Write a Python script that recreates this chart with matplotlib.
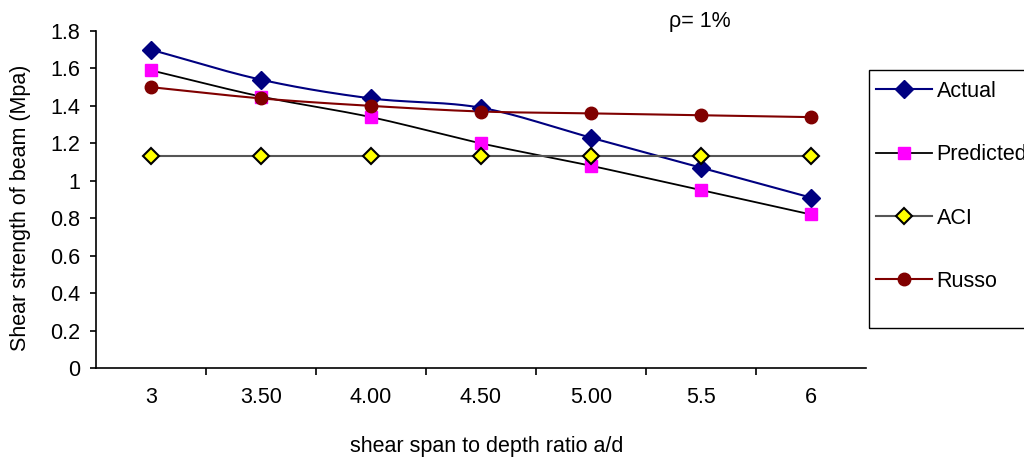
import numpy as np
import matplotlib.pyplot as plt
from matplotlib.patches import Rectangle

# shear strength (MPa) against a/d, rho = 1%
ratios = ['3', '3.50', '4.00', '4.50', '5.00', '5.5', '6']
actual = [1.70, 1.54, 1.44, 1.39, 1.23, 1.07, 0.91]
predicted = [1.59, 1.45, 1.34, 1.20, 1.08, 0.95, 0.82]
aci = [1.13, 1.13, 1.13, 1.13, 1.13, 1.13, 1.13]
russo = [1.50, 1.44, 1.40, 1.37, 1.36, 1.35, 1.34]

plt.rcParams['font.family'] = ['Liberation Sans', 'DejaVu Sans']
FS = 15.5


# Catmull-Rom curve through the points, like a smoothed line
def smooth(y, n=30):
    p = np.asarray(y, dtype=float)
    x = np.arange(len(p), dtype=float)
    px = np.concatenate([[2 * x[0] - x[1]], x, [2 * x[-1] - x[-2]]])
    py = np.concatenate([[2 * p[0] - p[1]], p, [2 * p[-1] - p[-2]]])
    t = np.linspace(0, 1, n)[:-1]
    xs, ys = [], []
    for i in range(1, len(px) - 2):
        for arr, out in ((px, xs), (py, ys)):
            p0, p1, p2, p3 = arr[i - 1], arr[i], arr[i + 1], arr[i + 2]
            out.extend(0.5 * (2 * p1 + (-p0 + p2) * t
                              + (2 * p0 - 5 * p1 + 4 * p2 - p3) * t ** 2
                              + (-p0 + 3 * p1 - 3 * p2 + p3) * t ** 3))
    xs.append(x[-1])
    ys.append(p[-1])
    return np.array(xs), np.array(ys)


W, H = 1024, 459
fig = plt.figure(figsize=(W / 100, H / 100), dpi=100)
ax = fig.add_axes([96 / W, 1 - 368 / H, 770 / W, 337 / H])

series = [
    ('Actual', actual, '#000080', dict(marker='D', ms=9.3, mfc='#000080', mec='#000080'), 1.5),
    ('Predicted', predicted, 'black', dict(marker='s', ms=8, mfc='#ff00ff', mec='#ff00ff'), 1.3),
    ('ACI', aci, '#555555', dict(marker='D', ms=8.0, mfc='#ffff00', mec='black', mew=1.5), 1.5),
    ('Russo', russo, '#800000', dict(marker='o', ms=9, mfc='#800000', mec='#800000'), 1.5),
]

xi = np.arange(len(ratios))
handles = []
for name, vals, col, mk, lw in series:
    sx, sy = smooth(vals)
    ax.plot(sx, sy, color=col, lw=lw, zorder=2)
    ax.plot(xi, vals, ls='none', zorder=3, **mk)
    h, = ax.plot([], [], color=col, lw=lw, label=name, **mk)
    handles.append(h)

ax.set_xlim(-0.5, len(ratios) - 0.5)
ax.set_ylim(0, 1.8)
ax.set_xticks(xi)
ax.set_xticklabels(ratios)
ax.set_xticks(np.arange(0.5, len(ratios) - 1), minor=True)
ax.tick_params(axis='x', which='major', length=0, pad=14, labelsize=FS)
ax.tick_params(axis='x', which='minor', length=5, width=1.2, direction='out')
yt = np.round(np.arange(0, 1.81, 0.2), 1)
ax.set_yticks(yt)
ax.set_yticklabels(['%g' % v for v in yt])
ax.tick_params(axis='y', length=4.5, width=1.2, pad=7, labelsize=FS)
for s in ('top', 'right'):
    ax.spines[s].set_visible(False)
for s in ('left', 'bottom'):
    ax.spines[s].set_linewidth(1.2)

ax.set_xlabel('shear span to depth ratio a/d', fontsize=FS)
ax.xaxis.label.set_va('center')
ax.xaxis.set_label_coords(0.507, -0.234)
ax.set_ylabel('Shear strength of beam (Mpa)', fontsize=FS)
ax.yaxis.label.set_va('center')
ax.yaxis.set_label_coords(-0.0987, 0.475)

fig.text(700 / W, 1 - 22 / H, 'ρ= 1%', fontsize=FS, ha='center', va='center')

leg = fig.legend(handles=handles, loc='upper left',
                 bbox_to_anchor=(865 / W, 1 - 70 / H), bbox_transform=fig.transFigure,
                 frameon=False, fontsize=FS, borderpad=0.5, borderaxespad=0,
                 labelspacing=1.97, handlelength=2.6, handletextpad=0.23)
fig.patches.append(Rectangle((869 / W, 1 - 328 / H), 0.3, 258 / H,
                             transform=fig.transFigure, fill=False,
                             edgecolor='black', lw=1.0, clip_on=False))

fig.savefig('out.png', dpi=100)
